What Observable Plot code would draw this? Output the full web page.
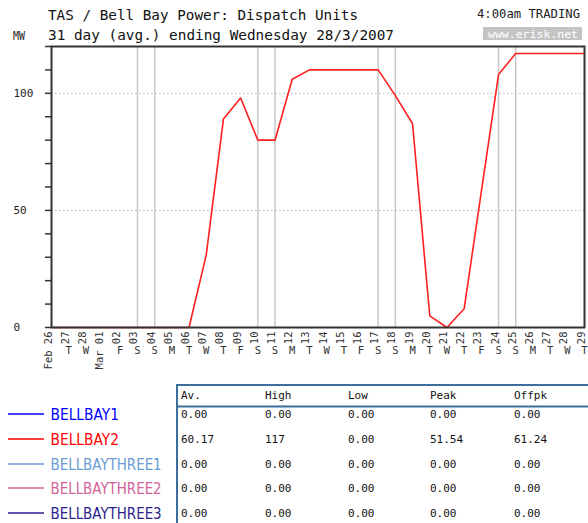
<!DOCTYPE html>
<html>
<head>
<meta charset="utf-8">
<script src="https://cdn.jsdelivr.net/npm/d3@7"></script>
<script src="https://cdn.jsdelivr.net/npm/@observablehq/plot@0.6"></script>
<style>
  html, body { margin: 0; padding: 0; background: #fff; }
  #page { position: relative; width: 588px; height: 523px; overflow: hidden; background: #fff; }
  #page svg.overlay { position: absolute; left: 0; }
  #chart { position: absolute; left: 0; top: 0; }
</style>
</head>
<body>
<div id="page">
  <div id="chart"></div>
</div>
<script>
// ---- data ----
const dates = [
  "2007-02-26","2007-02-27","2007-02-28","2007-03-01","2007-03-02","2007-03-03","2007-03-04",
  "2007-03-05","2007-03-06","2007-03-07","2007-03-08","2007-03-09","2007-03-10","2007-03-11",
  "2007-03-12","2007-03-13","2007-03-14","2007-03-15","2007-03-16","2007-03-17","2007-03-18",
  "2007-03-19","2007-03-20","2007-03-21","2007-03-22","2007-03-23","2007-03-24","2007-03-25",
  "2007-03-26","2007-03-27","2007-03-28","2007-03-29"
];
const bellbay2 = [
  0, 0, 0, 0, 0, 0, 0,
  0, 0, 31, 89, 98, 80, 80,
  106, 110, 110, 110, 110, 110, 99,
  87, 5, 0, 8, 58, 108, 117,
  117, 117, 117, 117
];
const dayLabels = [
  "Feb 26","27","28","Mar 01","02","03","04","05","06","07","08","09","10","11","12","13",
  "14","15","16","17","18","19","20","21","22","23","24","25","26","27","28","29"
];
const weekdayLetters = [
  "","T","W","","F","S","S","M","T","W","T","F","S","S","M","T",
  "W","T","F","S","S","M","T","W","T","F","S","S","M","T","W","T"
];
const weekendDates = ["2007-03-03","2007-03-04","2007-03-10","2007-03-11","2007-03-17","2007-03-18","2007-03-24","2007-03-25"];
const yTicks = [0,10,20,30,40,50,60,70,80,90,100,110,120];
const yLabels = [0, 50, 100];
const yGrid = [50, 100];

const seriesNames = ["BELLBAY1","BELLBAY2","BELLBAYTHREE1","BELLBAYTHREE2","BELLBAYTHREE3"];
const seriesColors = ["#0000ff","#ff0000","#6b9bd2","#d0649a","#2e1e8e"];
const tableHeaders = ["Av.","High","Low","Peak","Offpk"];
const tableRows = [
  ["0.00","0.00","0.00","0.00","0.00"],
  ["60.17","117","0.00","51.54","61.24"],
  ["0.00","0.00","0.00","0.00","0.00"],
  ["0.00","0.00","0.00","0.00","0.00"],
  ["0.00","0.00","0.00","0.00","0.00"]
];
const titleText = "TAS / Bell Bay Power: Dispatch Units";
const subtitleText = "31 day (avg.) ending Wednesday 28/3/2007";
const unitText = "MW";
const tradingText = "4:00am TRADING";
const siteText = "www.erisk.net";

// ---- build ----
const parse = d3.utcParse("%Y-%m-%d");
const series = dates.map((d, i) => ({date: parse(d), value: bellbay2[i]}));
const days = dates.map((d, i) => ({date: parse(d), label: dayLabels[i], dow: weekdayLetters[i]}));
const weekends = weekendDates.map(parse);

const mono = "DejaVu Sans Mono, monospace";

const chart = Plot.plot({
  width: 588,
  height: 380,
  marginTop: 46,
  marginBottom: 53,
  marginLeft: 51,
  marginRight: 4,
  style: {background: "transparent", fontFamily: mono},
  x: {type: "utc", domain: [parse(dates[0]), parse(dates[dates.length - 1])], axis: null},
  y: {domain: [0, 120], axis: null},
  marks: [
    Plot.ruleX(weekends, {stroke: "#c8c8c8", strokeWidth: 1.5}),
    Plot.ruleY(yGrid, {stroke: "#b4b4b4", strokeDasharray: "1.5,2.5", strokeWidth: 1}),
    Plot.line(series, {x: "date", y: "value", stroke: "#ff1f1f", strokeWidth: 1.6}),
    Plot.frame({stroke: "#333", strokeWidth: 2}),
    Plot.axisY({ticks: yTicks, tickSize: 6, tickFormat: () => "", label: null, stroke: "#333", strokeWidth: 1.5}),
    Plot.text(yLabels, {y: d => d, text: d => String(d), frameAnchor: "left", dx: -38, textAnchor: "start", fontSize: 11, fill: "#222"}),
    Plot.text(days, {x: "date", text: "label", frameAnchor: "bottom", rotate: -90, textAnchor: "end", dy: 4, fontSize: 10.5, fill: "#333"}),
    Plot.text(days.filter(d => d.dow), {x: "date", text: "dow", frameAnchor: "bottom", dy: 26, fontSize: 10.5, fill: "#333"})
  ]
});
document.getElementById("chart").appendChild(chart);

const page = d3.select("#page");

// header overlay
const head = page.append("svg").attr("class", "overlay")
  .attr("width", 588).attr("height", 46).style("top", "0px");
head.append("text").attr("x", 48).attr("y", 20)
  .attr("font-family", mono).attr("font-size", 14).attr("fill", "#111")
  .attr("textLength", 310).attr("lengthAdjust", "spacingAndGlyphs").text(titleText);
head.append("text").attr("x", 13).attr("y", 40)
  .attr("font-family", mono).attr("font-size", 12).attr("fill", "#222")
  .attr("textLength", 12).attr("lengthAdjust", "spacingAndGlyphs").text(unitText);
head.append("text").attr("x", 48).attr("y", 40)
  .attr("font-family", mono).attr("font-size", 14).attr("fill", "#111")
  .attr("textLength", 346).attr("lengthAdjust", "spacingAndGlyphs").text(subtitleText);
head.append("text").attr("x", 477).attr("y", 18)
  .attr("font-family", mono).attr("font-size", 11.5).attr("fill", "#222")
  .attr("textLength", 103).attr("lengthAdjust", "spacingAndGlyphs").text(tradingText);
head.append("rect").attr("x", 483).attr("y", 27).attr("width", 99).attr("height", 13).attr("fill", "#c4c4c4");
head.append("text").attr("x", 488).attr("y", 37.5)
  .attr("font-family", mono).attr("font-size", 10.5).attr("fill", "#fff")
  .attr("textLength", 90).attr("lengthAdjust", "spacingAndGlyphs").text(siteText);

// legend + table overlay
const bot = page.append("svg").attr("class", "overlay")
  .attr("width", 588).attr("height", 143).style("top", "380px");
const rowY = [34, 59, 84, 108, 133]; // row centres relative to top 380
const border = "#3d6f9c";
bot.append("line").attr("x1", 177).attr("x2", 588).attr("y1", 5).attr("y2", 5).attr("stroke", border).attr("stroke-width", 2);
bot.append("line").attr("x1", 177).attr("x2", 588).attr("y1", 26.5).attr("y2", 26.5).attr("stroke", border).attr("stroke-width", 2);
bot.append("line").attr("x1", 177).attr("x2", 177).attr("y1", 4).attr("y2", 143).attr("stroke", border).attr("stroke-width", 2);
const colX = [181, 265, 348, 430, 514];
tableHeaders.forEach((h, j) => {
  bot.append("text").attr("x", colX[j]).attr("y", 19)
    .attr("font-family", mono).attr("font-size", 11).attr("fill", "#111").text(h);
});
tableRows.forEach((row, i) => {
  row.forEach((v, j) => {
    bot.append("text").attr("x", colX[j]).attr("y", rowY[i] + 4)
      .attr("font-family", mono).attr("font-size", 11).attr("fill", "#111").text(v);
  });
});
seriesNames.forEach((name, i) => {
  bot.append("line").attr("x1", 8).attr("x2", 44).attr("y1", rowY[i]).attr("y2", rowY[i])
    .attr("stroke", seriesColors[i]).attr("stroke-width", 1.5);
  bot.append("text").attr("x", 50.5).attr("y", rowY[i] + 6)
    .attr("font-family", "DejaVu Sans, sans-serif").attr("font-size", 15).attr("fill", seriesColors[i])
    .attr("textLength", name.length * 8.55).attr("lengthAdjust", "spacingAndGlyphs").text(name);
});
</script>
</body>
</html>
